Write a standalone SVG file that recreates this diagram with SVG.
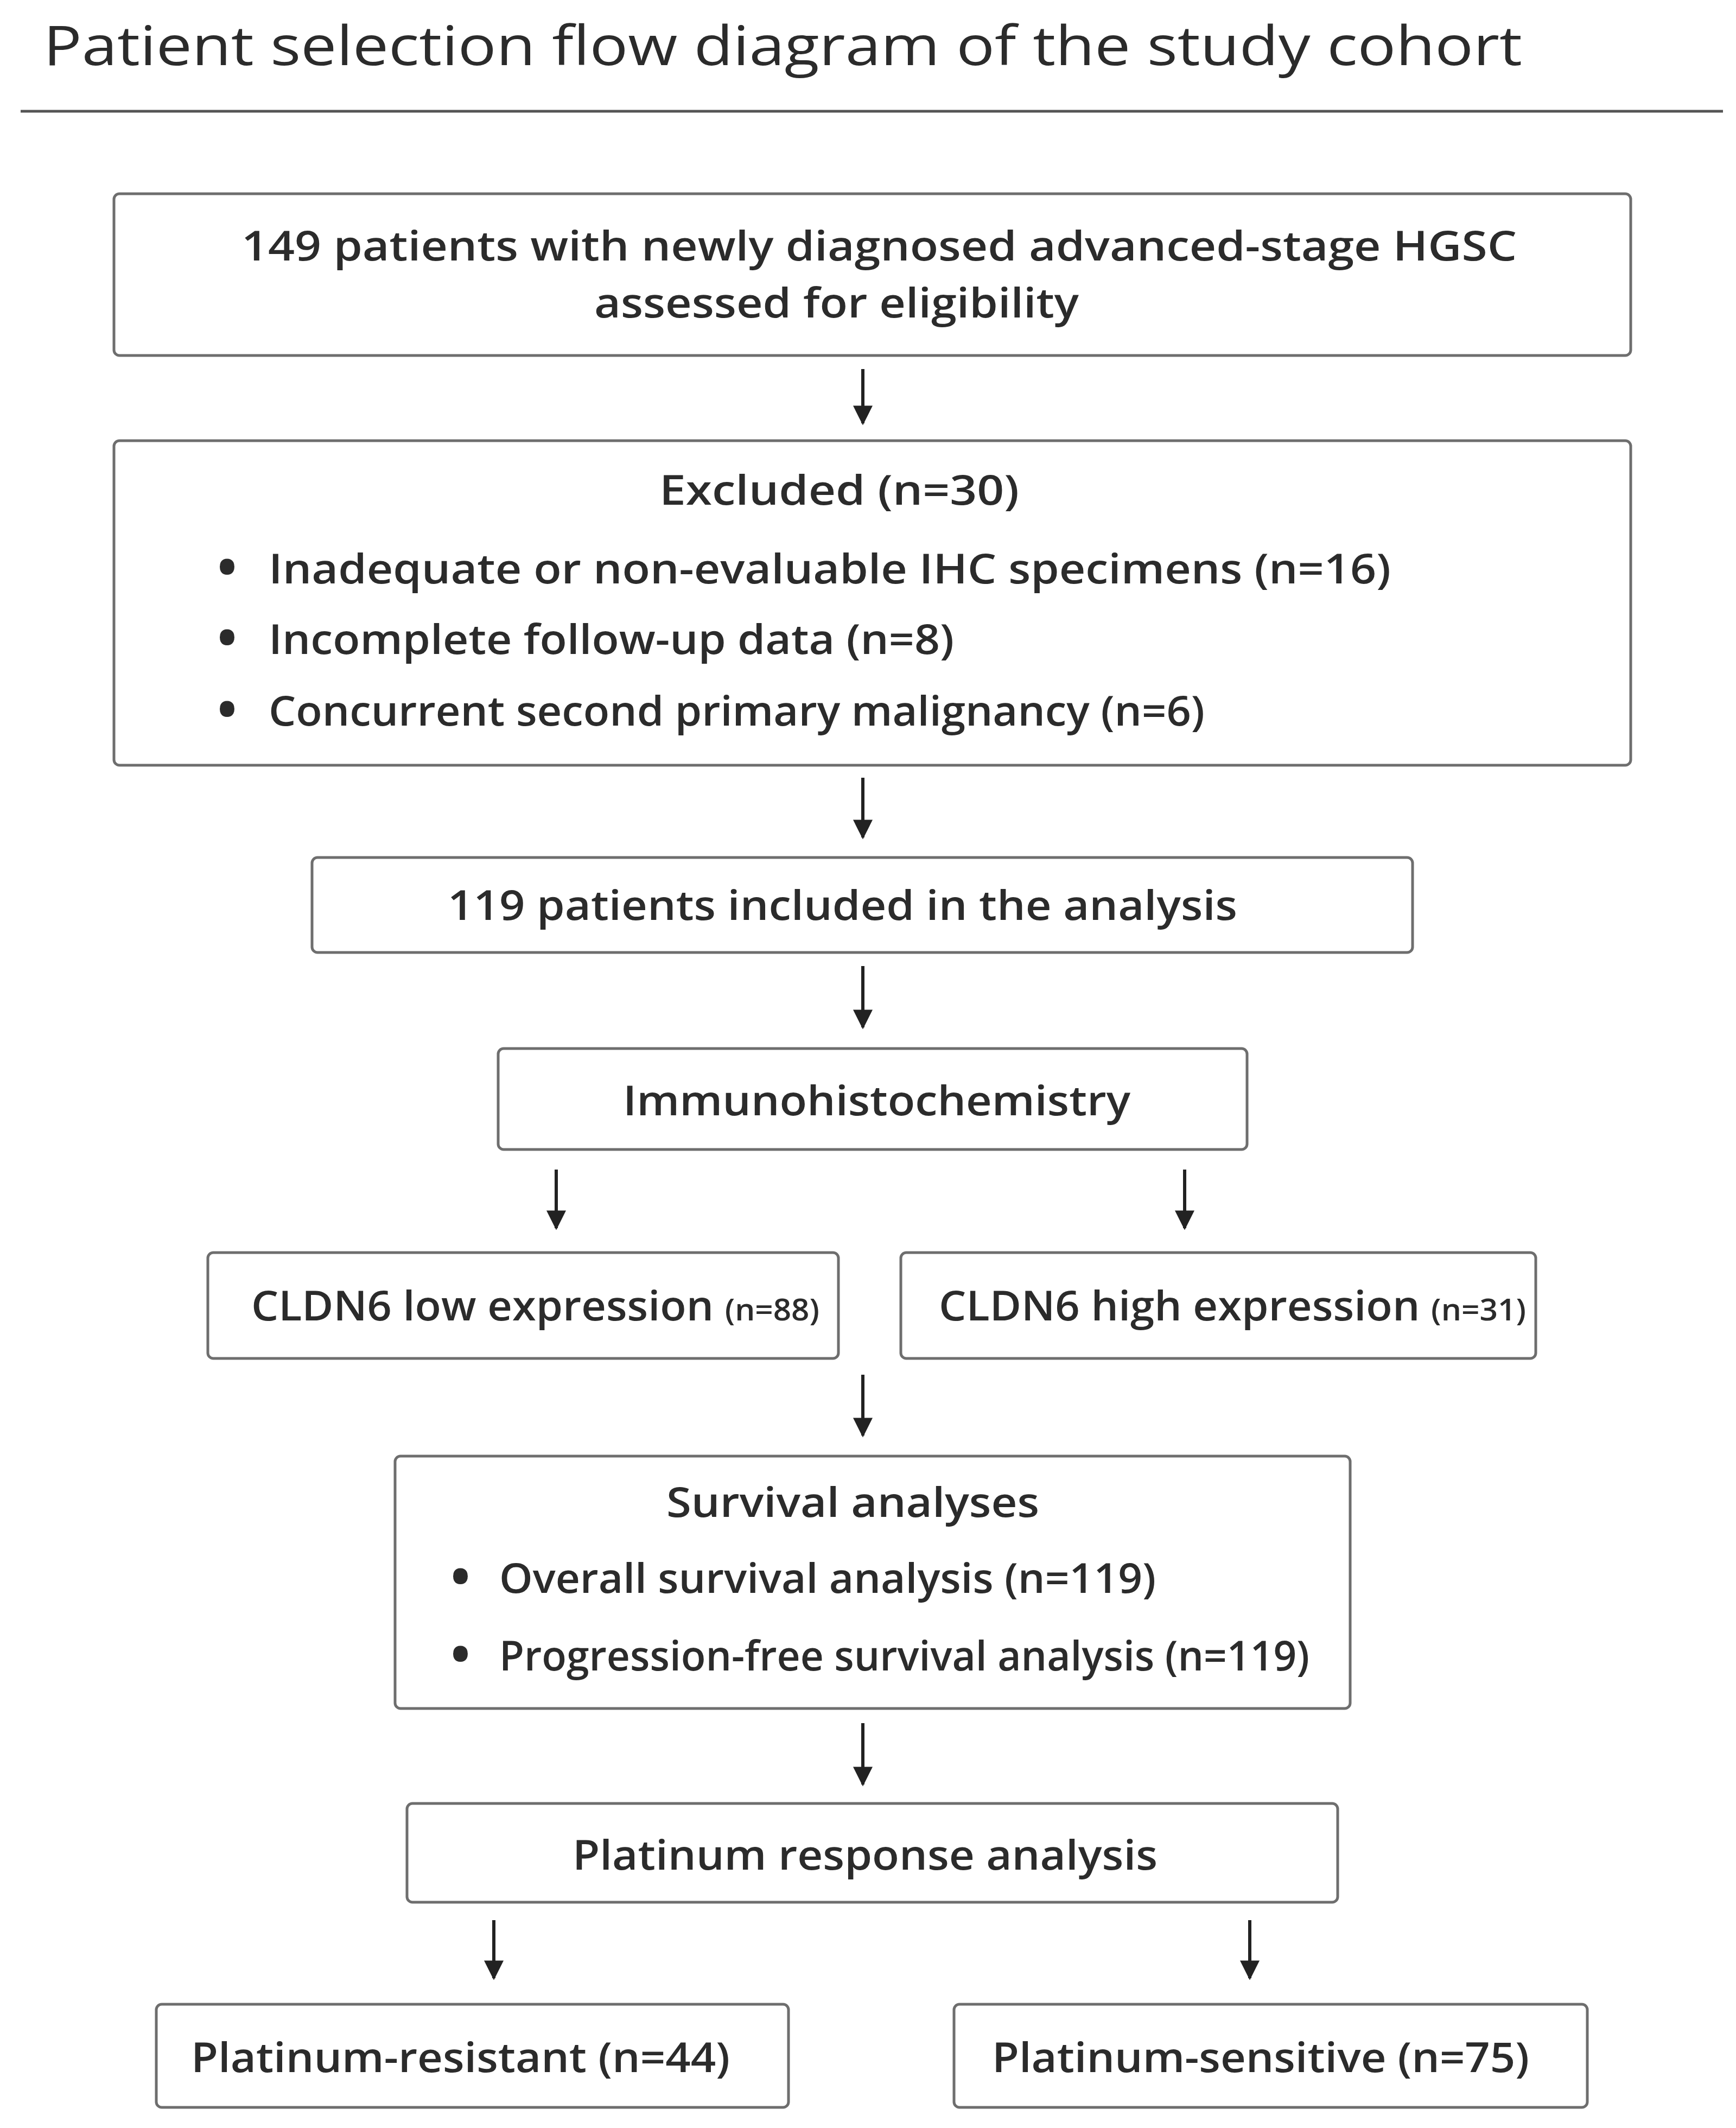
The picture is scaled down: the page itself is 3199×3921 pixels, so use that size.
<svg xmlns="http://www.w3.org/2000/svg" width="3199" height="3921" viewBox="0 0 3199 3921">
<defs>
<style>
.b{fill:#fff;stroke:#6e6e6e;stroke-width:5}
text{font-family:"Open Sans","Liberation Sans",sans-serif;fill:#2b2b2b;font-size:76px;font-weight:600}
.c{text-anchor:middle}
.s{font-size:56px}
.d{font-weight:800;font-size:84px}
.a{stroke:#222;stroke-width:6;fill:none;marker-end:url(#h)}
</style>
<marker id="h" viewBox="0 0 10 10" refX="9" refY="5" markerWidth="7" markerHeight="6" orient="auto" markerUnits="strokeWidth"><path d="M0,0L10,5L0,10z" fill="#222"/></marker>
</defs>
<rect width="3199" height="3921" fill="#fff"/>
<g id="title"><text x="80" y="120" style="font-size:100px;font-weight:400" textLength="2725" lengthAdjust="spacingAndGlyphs">Patient selection flow diagram of the study cohort</text>
<line x1="38" y1="205" x2="3175" y2="205" stroke="#555" stroke-width="5"/></g>
<g id="n1"><rect class="b" x="210" y="357" width="2795" height="298" rx="10"/>
<text x="445" y="480" textLength="2350" lengthAdjust="spacingAndGlyphs">149 patients with newly diagnosed advanced-stage HGSC</text>
<text x="1095" y="585" textLength="893" lengthAdjust="spacingAndGlyphs">assessed for eligibility</text></g>
<g id="n2"><rect class="b" x="210" y="812" width="2795" height="598" rx="10"/>
<text x="1215" y="930" textLength="663" lengthAdjust="spacingAndGlyphs">Excluded (n=30)</text>
<text class="d" x="402" y="1075">•</text><text x="495" y="1075" textLength="2068" lengthAdjust="spacingAndGlyphs">Inadequate or non-evaluable IHC specimens (n=16)</text>
<text class="d" x="402" y="1205">•</text><text x="495" y="1205" textLength="1263" lengthAdjust="spacingAndGlyphs">Incomplete follow-up data (n=8)</text>
<text class="d" x="402" y="1337">•</text><text x="495" y="1337" textLength="1725" lengthAdjust="spacingAndGlyphs">Concurrent second primary malignancy (n=6)</text></g>
<g id="n3"><rect class="b" x="575" y="1580" width="2028" height="175" rx="10"/>
<text x="825" y="1695" textLength="1455" lengthAdjust="spacingAndGlyphs">119 patients included in the analysis</text></g>
<g id="n4"><rect class="b" x="918" y="1932" width="1380" height="186" rx="10"/>
<text x="1148" y="2055" textLength="935" lengthAdjust="spacingAndGlyphs">Immunohistochemistry</text></g>
<g id="n5"><rect class="b" x="383" y="2308" width="1162" height="195" rx="10"/>
<text x="463" y="2433" textLength="1047" lengthAdjust="spacingAndGlyphs">CLDN6 low expression <tspan class="s">(n=88)</tspan></text></g>
<g id="n6"><rect class="b" x="1660" y="2308" width="1170" height="195" rx="10"/>
<text x="1730" y="2433" textLength="1082" lengthAdjust="spacingAndGlyphs">CLDN6 high expression <tspan class="s">(n=31)</tspan></text></g>
<g id="n7"><rect class="b" x="728" y="2683" width="1760" height="465" rx="10"/>
<text x="1228" y="2795" textLength="687" lengthAdjust="spacingAndGlyphs">Survival analyses</text>
<text class="d" x="832" y="2935">•</text><text x="920" y="2935" textLength="1210" lengthAdjust="spacingAndGlyphs">Overall survival analysis (n=119)</text>
<text class="d" x="832" y="3078">•</text><text x="920" y="3078" textLength="1493" lengthAdjust="spacingAndGlyphs">Progression-free survival analysis (n=119)</text></g>
<g id="n8"><rect class="b" x="750" y="3323" width="1715" height="182" rx="10"/>
<text x="1055" y="3445" textLength="1078" lengthAdjust="spacingAndGlyphs">Platinum response analysis</text></g>
<g id="n9"><rect class="b" x="288" y="3693" width="1165" height="190" rx="10"/>
<text x="352" y="3818" textLength="993" lengthAdjust="spacingAndGlyphs">Platinum-resistant (n=44)</text></g>
<g id="n10"><rect class="b" x="1758" y="3693" width="1167" height="190" rx="10"/>
<text x="1828" y="3818" textLength="990" lengthAdjust="spacingAndGlyphs">Platinum-sensitive (n=75)</text></g>
<g id="connectors">
<line class="a" x1="1590" y1="680" x2="1590" y2="780"/>
<line class="a" x1="1590" y1="1433" x2="1590" y2="1543"/>
<line class="a" x1="1590" y1="1780" x2="1590" y2="1893"/>
<line class="a" x1="1025" y1="2155" x2="1025" y2="2263"/>
<line class="a" x1="2183" y1="2155" x2="2183" y2="2263"/>
<line class="a" x1="1590" y1="2533" x2="1590" y2="2645"/>
<line class="a" x1="1590" y1="3175" x2="1590" y2="3288"/>
<line class="a" x1="910" y1="3538" x2="910" y2="3645"/>
<line class="a" x1="2303" y1="3538" x2="2303" y2="3645"/>
</g>
</svg>
